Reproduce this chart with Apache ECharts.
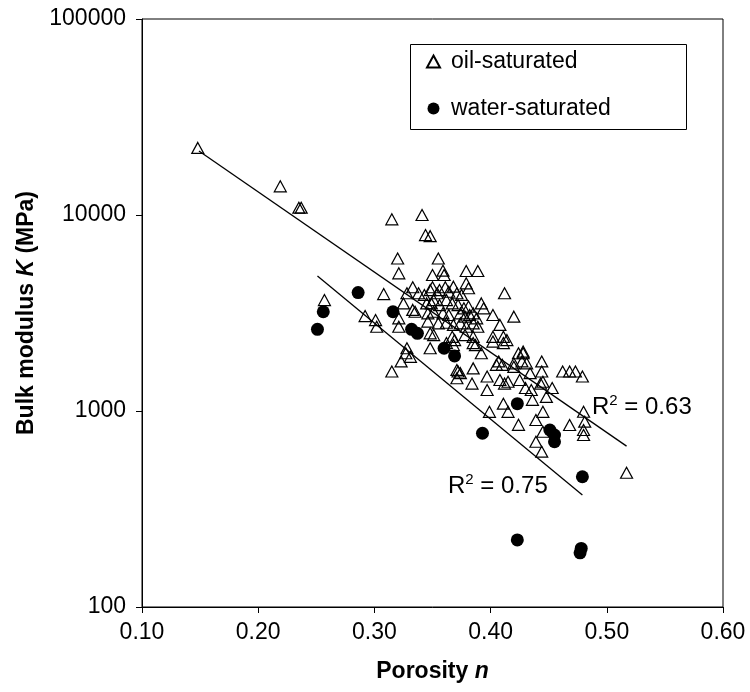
<!DOCTYPE html>
<html><head><meta charset="utf-8">
<script src="https://cdn.jsdelivr.net/npm/echarts@6/dist/echarts.min.js"></script>
<style>html,body{margin:0;padding:0;background:#fff}#c{width:750px;height:692px}</style>
</head><body><div id="c"></div>
<script>
// ---- data ----
const oilPorosity = [
  0.148,0.219,0.235,0.237,0.257,0.315,0.341,0.344,0.348,0.320,0.355,0.321,0.350,0.359,0.360,0.379,0.389,
  0.308,0.292,0.301,0.302,0.321,0.321,0.328,0.327,0.323,0.331,0.315,
  0.328,0.333,0.338,0.343,0.348,0.350,0.354,0.356,0.361,0.364,0.368,0.371,0.375,0.379,0.381,0.412,
  0.325,0.333,0.335,0.345,0.349,0.351,0.356,0.362,0.367,0.372,0.377,0.381,0.392,0.394,
  0.346,0.351,0.359,0.364,0.374,0.378,0.382,0.385,0.388,0.402,0.420,
  0.346,0.355,0.362,0.368,0.374,0.379,0.385,0.389,0.408,
  0.348,0.351,0.367,0.369,0.378,0.385,0.402,0.411,0.414,
  0.348,0.362,0.368,0.385,0.392,0.411,0.424,0.428,0.387,0.402,
  0.371,0.372,0.374,0.385,0.397,0.407,0.410,0.420,0.427,0.431,0.405,0.420,0.428,
  0.371,0.384,0.397,0.408,0.412,0.415,0.425,0.430,0.434,
  0.399,0.411,0.415,0.424,
  0.435,0.444,0.444,0.443,0.445,0.453,0.448,0.436,0.462,0.468,0.473,0.479,
  0.439,0.445,0.445,0.439,0.444,0.468,0.480,0.481,0.480,0.480,0.517
];
const oilK = [
  22000,14000,10900,10900,3680,9500,10000,7900,7800,6000,6000,5040,4940,5200,4940,5180,5180,
  3950,3050,2910,2690,2970,2690,2090,1970,1790,1890,1590,
  3990,4280,3990,3910,4140,4280,3990,4140,4280,4060,4310,3990,3910,4480,4230,3990,
  3540,3280,3210,3540,3540,3680,3470,3680,3540,3470,3340,3410,3540,3340,
  3150,3210,3150,3090,3150,3030,3090,3150,2970,3090,3030,
  2860,2800,2820,2750,2800,2690,2800,2690,2750,
  2490,2440,2390,2300,2440,2390,2390,2390,2300,
  2090,2220,2170,2220,1970,2220,1970,2010,2170,2260,
  1620,1590,1560,1650,1500,1790,1720,1750,1790,1750,1720,1680,1970,
  1470,1380,1280,1440,1380,1410,1440,1310,1560,
  990,1090,990,850,
  1280,1790,1590,1380,1410,1310,1180,1140,1590,1590,1590,1500,
  900,990,784,697,620,848,991,882,800,754,484
];
const waterPorosity = [0.256,0.251,0.286,0.316,0.332,0.337,0.360,0.369,0.423,0.393,0.451,0.455,0.455,0.479,0.423,0.478,0.477];
const waterK        = [3210,2610,4020,3210,2610,2490,2090,1910,1090,770,800,754,697,462,220,199,189];
// exponential trend lines (straight on the log axis): end points
const oilTrendPorosity   = [0.149, 0.517];
const oilTrendK          = [21230, 662];
const waterTrendPorosity = [0.251, 0.479];
const waterTrendK        = [4890, 373];
const r2Oil = '0.63';
const r2Water = '0.75';
const seriesNames = ['oil-saturated', 'water-saturated'];
const xMin = 0.1, xMax = 0.6, xStep = 0.1;
const yMin = 100, yMax = 100000;

// ---- chart ----
const FONT = '"Liberation Sans", Arial, sans-serif';
const zip = (a, b) => a.map((v, i) => [v, b[i]]);
const chart = echarts.init(document.getElementById('c'), null, { renderer: 'canvas' });
const axisCommon = {
  axisLine: { show: true, onZero: false, lineStyle: { color: '#000', width: 1 } },
  axisTick: { show: true, inside: false, length: 6, lineStyle: { color: '#000', width: 1 } },
  splitLine: { show: false },
  minorTick: { show: false }
};
const r2Rich = {
  r: { fontFamily: FONT, fontSize: 24, color: '#000', lineHeight: 26, verticalAlign: 'bottom' },
  s: { fontFamily: FONT, fontSize: 15, color: '#000', lineHeight: 15, verticalAlign: 'top' }
};
chart.setOption({
  animation: false,
  backgroundColor: '#fff',
  grid: { left: 142, right: 27, top: 19, bottom: 85, show: true, borderColor: '#000', borderWidth: 1, backgroundColor: 'transparent' },
  xAxis: Object.assign({}, axisCommon, {
    type: 'value', min: xMin, max: xMax, interval: xStep,
    name: '{b|Porosity }{i|n}', nameLocation: 'middle', nameGap: 53,
    nameTextStyle: { rich: {
      b: { fontFamily: FONT, fontSize: 23, fontWeight: 'bold', color: '#000' },
      i: { fontFamily: FONT, fontSize: 23, fontWeight: 'bold', fontStyle: 'italic', color: '#000' } } },
    axisLabel: { fontFamily: FONT, fontSize: 23, color: '#000', margin: 14, formatter: v => v.toFixed(2) }
  }),
  yAxis: Object.assign({}, axisCommon, {
    type: 'log', logBase: 10, min: yMin, max: yMax,
    name: '{b|Bulk modulus }{i|K}{b| (MPa)}', nameLocation: 'middle', nameGap: 104, nameRotate: 90,
    nameTextStyle: { rich: {
      b: { fontFamily: FONT, fontSize: 23, fontWeight: 'bold', color: '#000' },
      i: { fontFamily: FONT, fontSize: 23, fontWeight: 'bold', fontStyle: 'italic', color: '#000' } } },
    axisLabel: { fontFamily: FONT, fontSize: 23, color: '#000', margin: 16, formatter: v => String(Math.round(v)) }
  }),
  legend: {
    data: seriesNames, orient: 'vertical', left: 421, top: 45,
    itemWidth: 13, itemHeight: 12, itemGap: 24,
    textStyle: { fontFamily: FONT, fontSize: 23, color: '#000', padding: [0, 0, 0, 6] },
    selectedMode: false
  },
  graphic: [
    { type: 'rect', left: 408, top: 42, shape: { width: 276, height: 85 }, style: { fill: 'none', stroke: '#000', lineWidth: 1 }, z: 10 },
    { type: 'text', left: 592, top: 393, style: { text: '{r|R}{s|2}{r| = ' + r2Oil + '}', rich: r2Rich }, z: 10 },
    { type: 'text', left: 448, top: 472, style: { text: '{r|R}{s|2}{r| = ' + r2Water + '}', rich: r2Rich }, z: 10 }
  ],
  series: [
    { name: seriesNames[0], type: 'scatter', data: zip(oilPorosity, oilK), symbol: 'triangle', symbolSize: [12, 11],
      itemStyle: { color: 'rgba(255,255,255,0)', borderColor: '#000', borderWidth: 1.2, opacity: 1 }, z: 3 },
    { name: seriesNames[1], type: 'scatter', data: zip(waterPorosity, waterK), symbol: 'circle', symbolSize: 13,
      itemStyle: { color: '#000', borderColor: '#000', borderWidth: 0, opacity: 1 }, z: 4 },
    { name: 'oil trend', type: 'line', data: zip(oilTrendPorosity, oilTrendK), symbol: 'none',
      lineStyle: { color: '#000', width: 1.3 }, z: 5, silent: true },
    { name: 'water trend', type: 'line', data: zip(waterTrendPorosity, waterTrendK), symbol: 'none',
      lineStyle: { color: '#000', width: 1.3 }, z: 5, silent: true }
  ]
});
</script>
</body></html>
